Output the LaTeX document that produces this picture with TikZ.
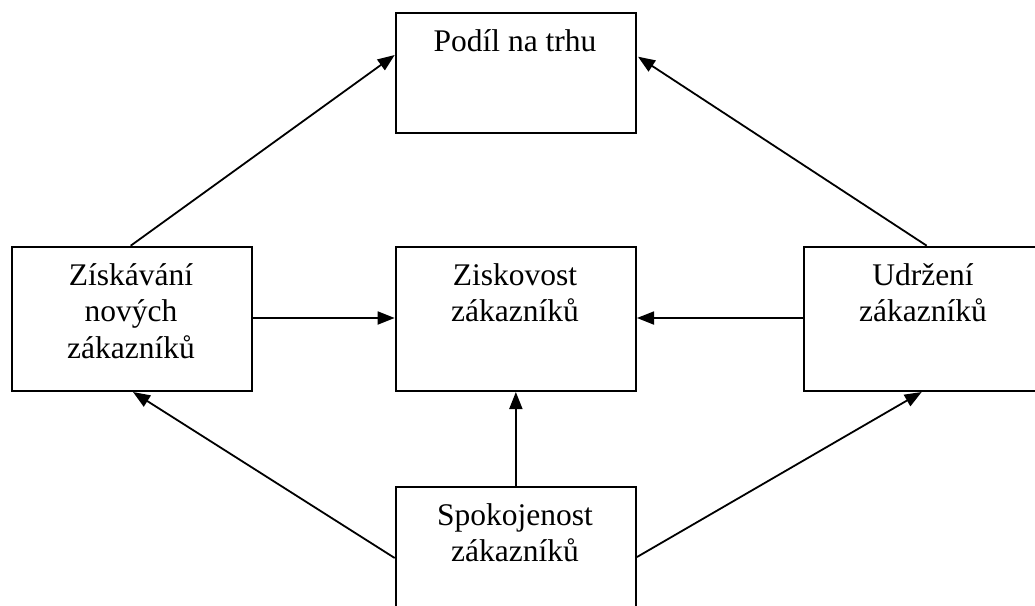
\documentclass[tikz,border=0pt]{standalone}
\usepackage{fontspec}
\setmainfont{Liberation Serif}
\usetikzlibrary{arrows.meta,calc}
\begin{document}
\begin{tikzpicture}[x=1pt,y=-1pt,
  box/.style={draw,line width=2pt,rectangle,inner sep=0pt,minimum width=240.3pt,minimum height=144.3pt,anchor=north west},
  lbl/.style={font=\fontsize{31.5}{36.7}\selectfont,align=center,anchor=base,inner sep=0pt},
  arr/.style={-{Triangle[length=17pt,width=13pt]},line width=1.8pt}]
\path[use as bounding box,clip] (0,0) rectangle (1035,605);
\node[box,minimum height=119.4pt] (T) at (394.7,12.3) {};
\node[box] (L) at (11,245.7) {};
\node[box] (C) at (394.7,245.7) {};
\node[box] (R) at (803,245.7) {};
\node[box] (B) at (394.7,486) {};
\node[lbl] (Tt) at (515,51.7) {Podíl na trhu};
\node[lbl] (Lt) at (131,358.4) {Získávání\\nových\\zákazníků};
\node[lbl] (Ct) at (515,321.7) {Ziskovost\\zákazníků};
\node[lbl] (Rt) at (923,321.7) {Udržení\\zákazníků};
\node[lbl] (Bt) at (515,561.7) {Spokojenost\\zákazníků};
\draw[arr] ($(L.north west)+(119.7,0)$) -- ($(T.north west)+(0,42.7)$);
\draw[arr] ($(R.north west)+(123.7,0)$) -- ($(T.north east)+(1,44.4)$);
\draw[arr] (L.east |- 0,318) -- (C.west |- 0,318);
\draw[arr] (R.west |- 0,318) -- (C.east |- 0,318);
\draw[arr] (B.north) -- (C.south);
\draw[arr] (B.west |- 0,558) -- (L.south -| 133,0);
\draw[arr] (B.east |- 0,557) -- (R.south -| 921.7,0);
\end{tikzpicture}
\end{document}
